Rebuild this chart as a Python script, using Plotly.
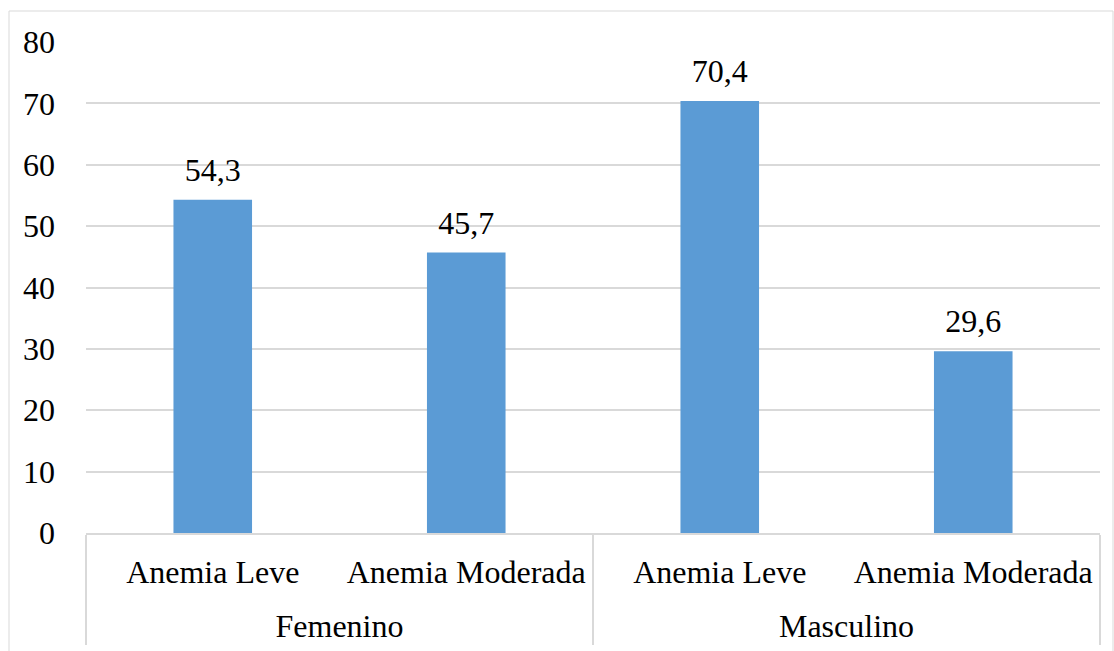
import plotly.graph_objects as go

sexo = ["Femenino", "Femenino", "Masculino", "Masculino"]
grado = ["Anemia Leve", "Anemia Moderada", "Anemia Leve", "Anemia Moderada"]
valores = [54.3, 45.7, 70.4, 29.6]
y_ticks = [0, 10, 20, 30, 40, 50, 60, 70, 80]

FONT = "Liberation Serif, Times New Roman, serif"
GRID = "#d9d9d9"
FS = 32

# invisible taller spacers widen the first label row so the second row sits lower
pad = "<span style='font-size:56px'>&nbsp;</span>"
grado_lbl = [pad + g + pad for g in grado]

# invisible spacer that lifts the value labels a little above the bars
lift = "<span style='font-size:74px'>&nbsp;</span>"

fig = go.Figure()
fig.add_trace(go.Bar(
    x=[sexo, grado_lbl],
    y=valores,
    marker=dict(color="#5b9bd5", line=dict(width=0)),
    texttemplate=lift + "%{y:.1f}" + lift,
    textposition="outside",
    constraintext="none",
    textfont=dict(family=FONT, size=FS, color="black"),
    cliponaxis=False,
))

fig.update_layout(
    width=1114, height=651,
    margin=dict(l=86, r=14, t=42, b=118),
    paper_bgcolor="white", plot_bgcolor="white",
    separators=",.",
    bargap=0.69,
    showlegend=False,
    font=dict(family=FONT, size=FS, color="black"),
    uniformtext=dict(minsize=FS, mode="show"),
    xaxis=dict(
        type="multicategory",
        automargin=False,
        tickangle=0,
        showline=True, linecolor=GRID, linewidth=1.5,
        showdividers=True, dividercolor=GRID, dividerwidth=1.5,
        tickfont=dict(family=FONT, size=FS, color="black"),
        ticklabelstandoff=10,
        showgrid=False, zeroline=False,
    ),
    yaxis=dict(
        range=[0, 80], tickvals=y_ticks,
        automargin=False,
        showgrid=True, gridcolor=GRID, gridwidth=1.5,
        zeroline=False, showline=False,
        tickfont=dict(family=FONT, size=FS, color="black"),
        ticklabelstandoff=30,
    ),
    shapes=[dict(
        type="rect", xref="paper", yref="paper",
        x0=(9 - 86) / 1014, x1=(1113 - 86) / 1014,
        y0=-0.4, y1=(533 - 11) / 491,
        line=dict(color=GRID, width=1), fillcolor="rgba(0,0,0,0)",
        layer="below",
    )],
)

fig.write_html("out.html")
